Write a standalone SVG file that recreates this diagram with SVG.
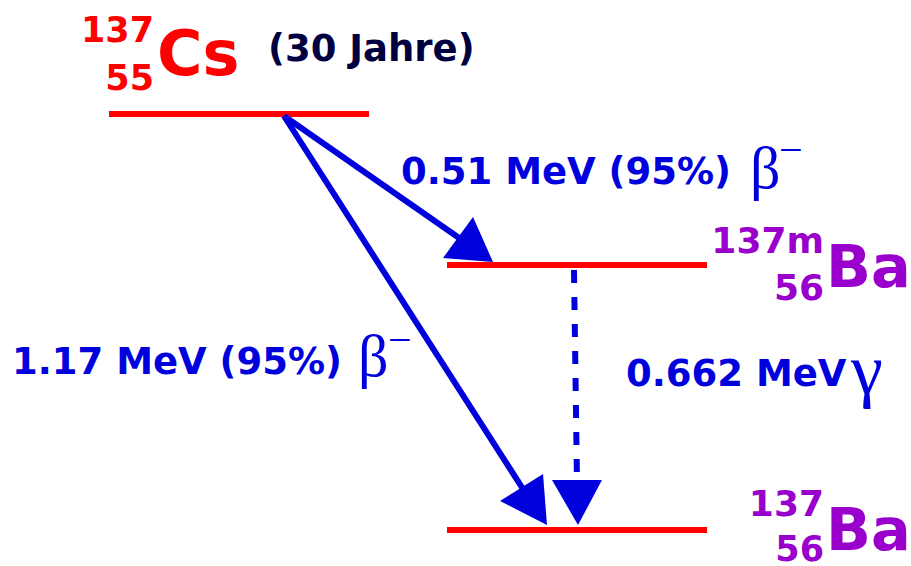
<svg xmlns="http://www.w3.org/2000/svg" width="911" height="566" viewBox="0 0 911 566">
<style>
.lvl{stroke:#ff0000;stroke-width:6;fill:none}
.arr{stroke:#0000dd;stroke-width:6;fill:none}
.dash{stroke:#0000dd;stroke-width:6;fill:none;stroke-dasharray:13 14}
.head{fill:#0000dd;stroke:none}
.b{font-family:"DejaVu Sans",sans-serif;font-weight:bold}
.g{font-family:"Liberation Serif",serif;fill:#0000dd}
.red{fill:#ff0000}
.pur{fill:#9900cc}
.blu{fill:#0000dd}
</style>
<g id="cs">
<line class="lvl" x1="109" y1="114" x2="369" y2="114"/>
<text class="b red" x="154" y="42" font-size="35" text-anchor="end">137</text>
<text class="b red" x="154" y="90" font-size="35" text-anchor="end">55</text>
<text class="b red" x="157" y="75" font-size="62">Cs</text>
<text class="b" x="268" y="61" font-size="37" fill="#000040">(30 Jahre)</text>
</g>
<g id="ba137m">
<line class="lvl" x1="447" y1="265" x2="707" y2="265"/>
<text class="b pur" x="824" y="253" font-size="36" text-anchor="end">137m</text>
<text class="b pur" x="824" y="300" font-size="36" text-anchor="end">56</text>
<text class="b pur" x="826" y="287" font-size="59">Ba</text>
</g>
<g id="ba137">
<line class="lvl" x1="447" y1="530" x2="707" y2="530"/>
<text class="b pur" x="824" y="516" font-size="36" text-anchor="end">137</text>
<text class="b pur" x="824" y="561" font-size="35" text-anchor="end">56</text>
<text class="b pur" x="826" y="550" font-size="59">Ba</text>
</g>
<g id="connectors">
<line class="arr" x1="284" y1="116" x2="462" y2="240"/>
<polygon class="head" points="443,258 473,217 493,262"/>
<line class="arr" x1="284" y1="116" x2="523" y2="489"/>
<polygon class="head" points="500,501 543,474 547,525"/>
<line class="dash" x1="574" y1="270" x2="577" y2="482"/>
<polygon class="head" points="552,480 602,480 578,525"/>
</g>
<g id="labels">
<text class="b blu" x="401" y="184" font-size="37">0.51 MeV (95%)</text>
<text class="g" x="750" y="188" font-size="60">β</text>
<text class="g" x="779" y="164" font-size="42">−</text>
<text class="b blu" x="12" y="374" font-size="37">1.17 MeV (95%)</text>
<text class="g" x="358" y="376" font-size="60">β</text>
<text class="g" x="388" y="354" font-size="42">−</text>
<text class="b blu" x="626" y="386" font-size="37">0.662 MeV</text>
<text class="g" x="851" y="394" font-size="72">γ</text>
</g>
</svg>
